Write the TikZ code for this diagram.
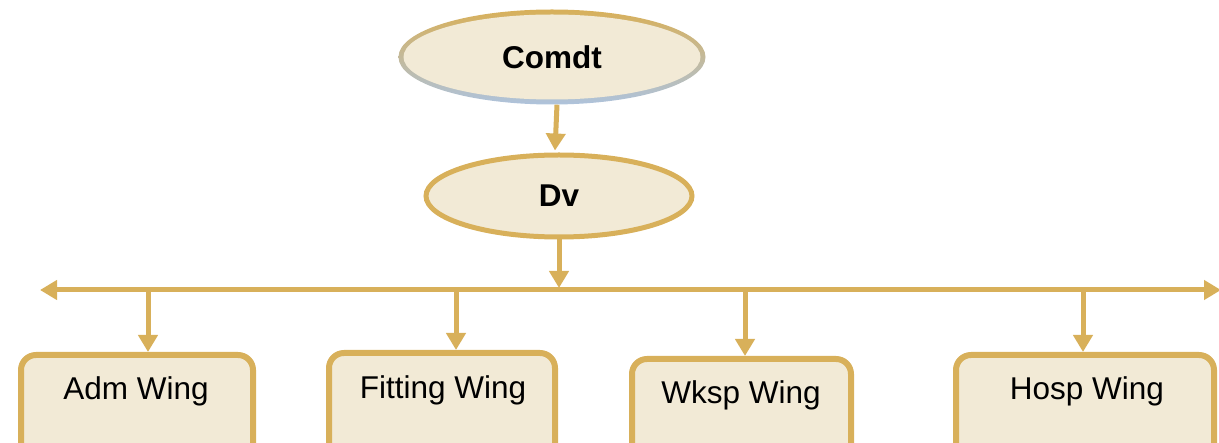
\documentclass[tikz,border=0pt]{standalone}
\usepackage{fontspec}
\setmainfont{Liberation Sans}
\usetikzlibrary{shapes.geometric,arrows.meta,calc}
\definecolor{gold}{HTML}{D8B05A}
\definecolor{cream}{HTML}{F2EAD6}
\definecolor{steel}{HTML}{AEC3DC}
\begin{document}
\begin{tikzpicture}[x=1pt,y=-1pt,
  conn/.style={draw=gold,line width=5pt,-{Triangle[length=17pt,width=19pt]}},
  oval/.style={ellipse,draw=gold,fill=cream,line width=5pt,inner sep=0pt,font=\fontsize{31.5}{36}\selectfont\bfseries},
  wingbox/.style={draw=gold,fill=cream,line width=6pt,rounded corners=15pt,minimum height=130pt,anchor=north,inner sep=0pt},
  wingtext/.style={font=\fontsize{31.5}{36}\selectfont,inner sep=0pt}]
\useasboundingbox (0,0) rectangle (1219,443);
% Comdt with gradient border
\shade[top color=gold,bottom color=steel,shading angle=0] (552,57) ellipse [x radius=153.5,y radius=47.5];
\node[ellipse,fill=cream,inner sep=0pt,minimum width=297pt,minimum height=85pt,font=\fontsize{31.5}{36}\selectfont\bfseries] (comdt) at (552,57) {Comdt};
\node[oval,minimum width=266pt,minimum height=82pt] (dv) at (559,196) {Dv};
\draw[conn] ($(comdt.south)+(5,5)$) -- ($(dv.north)+(-4,-2)$);
\coordinate (bl) at (40,290);
\coordinate (br) at (1221,290);
\coordinate (bc) at (559,290);
\draw[draw=gold,line width=5pt,{Triangle[length=17pt,width=19pt]}-{Triangle[length=17pt,width=19pt]}] (bl) -- (br);
\draw[conn] (dv.south) -- ($(bc)+(0,-2)$);
% boxes
\node[wingbox,minimum width=232pt] (adm) at (137,352) {};
\node[wingbox,minimum width=226pt] (fit) at (442,350) {};
\node[wingbox,minimum width=219pt] (wksp) at (741.5,356) {};
\node[wingbox,minimum width=258pt] (hosp) at (1085,352) {};
\node[wingtext] (admt) at (136,391) {Adm Wing};
\node[wingtext] (fitt) at (443,390) {Fitting Wing};
\node[wingtext] (wkspt) at (741,395) {Wksp Wing};
\node[wingtext] (hospt) at (1087,391) {Hosp Wing};
\coordinate (j1) at (148,290);
\coordinate (j2) at (456,290);
\coordinate (j3) at (745,290);
\coordinate (j4) at (1083,290);
\draw[conn] (j1) -- (j1 |- adm.north);
\draw[conn] (j2) -- (j2 |- fit.north);
\draw[conn] (j3) -- (j3 |- wksp.north);
\draw[conn] (j4) -- (j4 |- hosp.north);
\end{tikzpicture}
\end{document}
